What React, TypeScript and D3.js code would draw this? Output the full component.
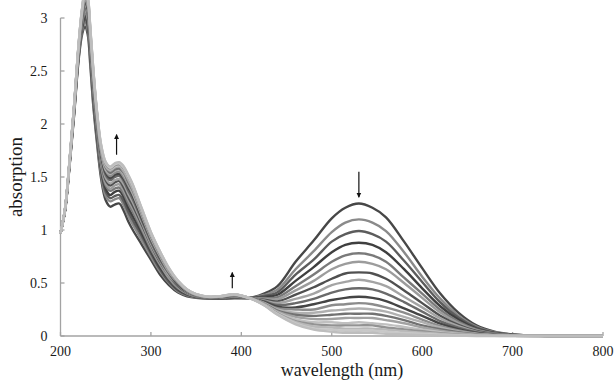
import * as d3 from 'd3';

// wavelength grid (nm) of the recorded spectra
const wavelengths = [
  200, 205, 210, 215, 220, 224, 227, 230, 233, 236, 240, 245, 250, 255, 260, 265, 270, 275, 280,
  290, 300, 310, 320, 330, 340, 350, 365, 380, 392, 410, 425, 440, 460, 480, 500, 515, 530, 545,
  560, 580, 600, 620, 640, 660, 680, 700, 730, 800,
];

// one row per wavelength, one column per titration step (19 spectra)
const absorbance: number[][] = [
  [0.97, 0.97, 0.97, 0.97, 0.97, 0.97, 0.97, 0.97, 0.97, 0.97, 0.97, 0.97, 0.97, 0.97, 0.97, 0.97, 0.97, 0.97, 0.97],
  [1.18, 1.18, 1.18, 1.19, 1.19, 1.19, 1.19, 1.19, 1.19, 1.19, 1.2, 1.2, 1.2, 1.2, 1.2, 1.2, 1.2, 1.2, 1.2],
  [1.6, 1.61, 1.61, 1.62, 1.62, 1.62, 1.63, 1.63, 1.63, 1.64, 1.64, 1.64, 1.64, 1.64, 1.65, 1.65, 1.65, 1.65, 1.65],
  [2.08, 2.09, 2.1, 2.11, 2.12, 2.12, 2.13, 2.13, 2.14, 2.15, 2.15, 2.15, 2.16, 2.16, 2.16, 2.17, 2.17, 2.17, 2.17],
  [2.6, 2.62, 2.63, 2.65, 2.66, 2.67, 2.68, 2.69, 2.7, 2.71, 2.72, 2.72, 2.73, 2.73, 2.74, 2.74, 2.75, 2.75, 2.75],
  [2.85, 2.88, 2.9, 2.93, 2.95, 2.96, 2.98, 3.0, 3.01, 3.03, 3.04, 3.05, 3.06, 3.07, 3.08, 3.09, 3.09, 3.1, 3.1],
  [2.92, 2.96, 2.99, 3.02, 3.05, 3.07, 3.1, 3.12, 3.14, 3.16, 3.17, 3.19, 3.2, 3.21, 3.22, 3.23, 3.24, 3.25, 3.25],
  [2.85, 2.89, 2.92, 2.96, 2.99, 3.01, 3.04, 3.06, 3.08, 3.1, 3.12, 3.13, 3.15, 3.16, 3.17, 3.18, 3.19, 3.2, 3.2],
  [2.55, 2.59, 2.62, 2.66, 2.69, 2.71, 2.74, 2.76, 2.78, 2.8, 2.82, 2.83, 2.85, 2.86, 2.87, 2.88, 2.89, 2.9, 2.9],
  [2.2, 2.24, 2.27, 2.31, 2.34, 2.36, 2.39, 2.41, 2.43, 2.45, 2.47, 2.48, 2.5, 2.51, 2.52, 2.53, 2.54, 2.55, 2.55],
  [1.85, 1.89, 1.91, 1.94, 1.97, 1.99, 2.01, 2.03, 2.05, 2.07, 2.08, 2.09, 2.11, 2.12, 2.13, 2.13, 2.14, 2.15, 2.15],
  [1.48, 1.52, 1.55, 1.58, 1.6, 1.62, 1.65, 1.67, 1.69, 1.71, 1.73, 1.74, 1.75, 1.76, 1.77, 1.78, 1.79, 1.8, 1.8],
  [1.28, 1.32, 1.36, 1.39, 1.42, 1.44, 1.47, 1.49, 1.52, 1.54, 1.56, 1.57, 1.59, 1.6, 1.61, 1.62, 1.63, 1.64, 1.64],
  [1.22, 1.27, 1.3, 1.33, 1.37, 1.39, 1.42, 1.44, 1.47, 1.49, 1.51, 1.53, 1.54, 1.56, 1.57, 1.58, 1.59, 1.59, 1.6],
  [1.24, 1.29, 1.32, 1.36, 1.39, 1.42, 1.45, 1.47, 1.5, 1.52, 1.54, 1.56, 1.57, 1.59, 1.6, 1.61, 1.62, 1.62, 1.63],
  [1.25, 1.3, 1.33, 1.37, 1.4, 1.43, 1.46, 1.48, 1.51, 1.53, 1.55, 1.57, 1.58, 1.6, 1.61, 1.62, 1.63, 1.63, 1.64],
  [1.18, 1.23, 1.27, 1.31, 1.34, 1.37, 1.4, 1.43, 1.46, 1.48, 1.5, 1.52, 1.54, 1.55, 1.57, 1.58, 1.59, 1.59, 1.6],
  [1.08, 1.13, 1.17, 1.21, 1.25, 1.28, 1.31, 1.34, 1.37, 1.4, 1.42, 1.44, 1.45, 1.47, 1.49, 1.5, 1.51, 1.51, 1.52],
  [1.0, 1.05, 1.09, 1.13, 1.17, 1.2, 1.23, 1.26, 1.29, 1.32, 1.34, 1.35, 1.37, 1.38, 1.4, 1.41, 1.42, 1.42, 1.43],
  [0.86, 0.9, 0.94, 0.97, 1.0, 1.02, 1.05, 1.07, 1.09, 1.11, 1.13, 1.14, 1.15, 1.16, 1.17, 1.18, 1.19, 1.2, 1.2],
  [0.72, 0.75, 0.78, 0.8, 0.82, 0.84, 0.86, 0.87, 0.89, 0.91, 0.92, 0.93, 0.94, 0.95, 0.96, 0.97, 0.97, 0.98, 0.98],
  [0.58, 0.61, 0.63, 0.65, 0.67, 0.68, 0.7, 0.71, 0.72, 0.74, 0.75, 0.76, 0.77, 0.78, 0.78, 0.79, 0.79, 0.8, 0.8],
  [0.48, 0.5, 0.51, 0.53, 0.54, 0.55, 0.57, 0.57, 0.59, 0.6, 0.6, 0.61, 0.62, 0.62, 0.63, 0.63, 0.63, 0.64, 0.64],
  [0.41, 0.42, 0.43, 0.44, 0.45, 0.46, 0.47, 0.48, 0.48, 0.49, 0.5, 0.5, 0.5, 0.51, 0.51, 0.51, 0.52, 0.52, 0.52],
  [0.375, 0.383, 0.389, 0.395, 0.4, 0.404, 0.409, 0.413, 0.418, 0.422, 0.425, 0.428, 0.43, 0.433, 0.435, 0.436, 0.438, 0.439, 0.44],
  [0.36, 0.364, 0.367, 0.37, 0.373, 0.376, 0.379, 0.381, 0.383, 0.385, 0.387, 0.388, 0.39, 0.391, 0.392, 0.393, 0.394, 0.394, 0.395],
  [0.352, 0.354, 0.356, 0.357, 0.359, 0.36, 0.362, 0.363, 0.364, 0.365, 0.366, 0.367, 0.367, 0.368, 0.369, 0.369, 0.369, 0.37, 0.37],
  [0.35, 0.354, 0.356, 0.359, 0.362, 0.364, 0.366, 0.368, 0.37, 0.372, 0.373, 0.374, 0.376, 0.377, 0.378, 0.378, 0.379, 0.38, 0.38],
  [0.355, 0.36, 0.363, 0.367, 0.37, 0.373, 0.376, 0.379, 0.381, 0.384, 0.386, 0.387, 0.389, 0.39, 0.392, 0.393, 0.394, 0.394, 0.395],
  [0.36, 0.36, 0.359, 0.359, 0.358, 0.358, 0.357, 0.357, 0.357, 0.356, 0.356, 0.356, 0.356, 0.356, 0.355, 0.355, 0.355, 0.355, 0.355],
  [0.4, 0.387, 0.377, 0.367, 0.358, 0.35, 0.342, 0.335, 0.328, 0.321, 0.315, 0.311, 0.306, 0.303, 0.299, 0.296, 0.294, 0.292, 0.29],
  [0.47, 0.438, 0.413, 0.389, 0.366, 0.348, 0.327, 0.311, 0.293, 0.276, 0.262, 0.251, 0.24, 0.231, 0.222, 0.215, 0.209, 0.204, 0.2],
  [0.7, 0.63, 0.58, 0.52, 0.47, 0.43, 0.39, 0.35, 0.31, 0.27, 0.25, 0.22, 0.2, 0.18, 0.16, 0.14, 0.13, 0.12, 0.11],
  [0.9, 0.8, 0.72, 0.65, 0.58, 0.52, 0.46, 0.4, 0.35, 0.3, 0.25, 0.22, 0.19, 0.16, 0.13, 0.11, 0.09, 0.07, 0.06],
  [1.11, 0.98, 0.89, 0.79, 0.7, 0.63, 0.54, 0.48, 0.41, 0.34, 0.29, 0.24, 0.2, 0.16, 0.13, 0.1, 0.08, 0.06, 0.04],
  [1.21, 1.07, 0.96, 0.86, 0.76, 0.68, 0.59, 0.51, 0.44, 0.36, 0.3, 0.25, 0.21, 0.17, 0.12, 0.1, 0.07, 0.05, 0.03],
  [1.25, 1.1, 0.99, 0.88, 0.78, 0.7, 0.6, 0.53, 0.45, 0.37, 0.31, 0.26, 0.21, 0.17, 0.13, 0.1, 0.07, 0.05, 0.03],
  [1.21, 1.07, 0.96, 0.86, 0.76, 0.68, 0.59, 0.51, 0.44, 0.36, 0.3, 0.25, 0.21, 0.17, 0.12, 0.1, 0.07, 0.05, 0.03],
  [1.12, 0.99, 0.89, 0.79, 0.7, 0.63, 0.54, 0.47, 0.4, 0.33, 0.27, 0.23, 0.19, 0.15, 0.11, 0.08, 0.06, 0.04, 0.02],
  [0.89, 0.79, 0.71, 0.63, 0.55, 0.5, 0.43, 0.37, 0.32, 0.26, 0.22, 0.18, 0.15, 0.12, 0.085, 0.063, 0.046, 0.028, 0.015],
  [0.64, 0.56, 0.51, 0.45, 0.4, 0.36, 0.31, 0.27, 0.23, 0.19, 0.155, 0.13, 0.1, 0.08, 0.06, 0.045, 0.03, 0.02, 0.01],
  [0.4, 0.353, 0.317, 0.281, 0.248, 0.222, 0.191, 0.167, 0.141, 0.116, 0.096, 0.08, 0.064, 0.05, 0.037, 0.027, 0.019, 0.011, 0.005],
  [0.22, 0.194, 0.174, 0.155, 0.136, 0.122, 0.105, 0.092, 0.078, 0.064, 0.053, 0.044, 0.036, 0.028, 0.02, 0.015, 0.011, 0.006, 0.003],
  [0.1, 0.088, 0.079, 0.07, 0.062, 0.055, 0.047, 0.041, 0.035, 0.028, 0.023, 0.019, 0.015, 0.012, 0.008, 0.006, 0.004, 0.002, 0],
  [0.04, 0.035, 0.032, 0.028, 0.025, 0.022, 0.019, 0.016, 0.014, 0.011, 0.009, 0.008, 0.006, 0.005, 0.003, 0.002, 0.001, 0.001, 0],
  [0.015, 0.013, 0.012, 0.011, 0.009, 0.008, 0.007, 0.006, 0.005, 0.004, 0.003, 0.003, 0.002, 0.002, 0.001, 0.001, 0.001, 0, 0],
  [0.003, 0.003, 0.002, 0.002, 0.002, 0.002, 0.001, 0.001, 0.001, 0.001, 0.001, 0.001, 0, 0, 0, 0, 0, 0, 0],
  [0, 0, 0, 0, 0, 0, 0, 0, 0, 0, 0, 0, 0, 0, 0, 0, 0, 0, 0],
];

const curveColors = [
  '#474747', '#8a8a8a', '#5c5c5c', '#3f3f3f', '#7a7a7a', '#9c9c9c', '#505050', '#a4a4a4', '#6a6a6a',
  '#454545', '#8c8c8c', '#b0b0b0', '#727272', '#a2a2a2', '#c0c0c0', '#939393', '#b8b8b8', '#c8c8c8', '#bdbdbd',
];

const xTicks = [200, 300, 400, 500, 600, 700, 800];
const yTicks = [0, 0.5, 1, 1.5, 2, 2.5, 3];
const yTickLabels = ['0', '0.5', '1', '1.5', '2', '2.5', '3'];

// titration arrows: wavelength, tail value, tip value
const arrowWl = [262, 390, 530];
const arrowFrom = [1.71, 0.45, 1.55];
const arrowTo = [1.9, 0.6, 1.31];

const W = 615;
const H = 381;
const FONT = "'Liberation Serif', 'DejaVu Serif', serif";
const AXIS = '#a3a3a3';

export default function App() {
  const x = d3.scaleLinear().domain([200, 800]).range([60.5, 603]);
  const y = d3.scaleLinear().domain([0, 3]).range([336, 18]);

  const line = d3
    .line<[number, number]>()
    .x((d) => x(d[0]))
    .y((d) => y(d[1]))
    .curve(d3.curveCatmullRom.alpha(0.5));

  const series = curveColors.map((_, i) =>
    wavelengths.map((w, j) => [w, absorbance[j][i]] as [number, number])
  );

  const textStyle = { fontFamily: FONT, fill: '#1a1a1a' };

  return (
    <svg
      width={W}
      height={H}
      viewBox={`0 0 ${W} ${H}`}
      style={{ position: 'absolute', left: 0, top: 0, background: '#fff' }}
    >
      <rect width={W} height={H} fill="#fff" />

      {/* axes */}
      <g stroke={AXIS} strokeWidth={1.3} fill="none">
        <line x1={x(200)} x2={x(200)} y1={y(0)} y2={y(3)} />
        <line x1={x(200)} x2={x(800)} y1={y(0)} y2={y(0)} />
        {yTicks.map((t) => (
          <line key={'yt' + t} x1={x(200)} x2={x(200) + 4} y1={y(t)} y2={y(t)} />
        ))}
        {xTicks.map((t) => (
          <line key={'xt' + t} x1={x(t)} x2={x(t)} y1={y(0)} y2={y(0) - 4} />
        ))}
      </g>

      {/* spectra */}
      <g fill="none" strokeWidth={2.4} strokeLinejoin="round">
        {series.map((s, i) => (
          <path key={i} d={line(s) ?? ''} stroke={curveColors[i]} />
        ))}
      </g>

      {/* arrows */}
      <defs>
        <marker id="head" viewBox="0 0 10 10" refX="9" refY="5" markerWidth="5" markerHeight="7" orient="auto-start-reverse" markerUnits="userSpaceOnUse">
          <path d="M0,0 L10,5 L0,10 z" fill="#111" />
        </marker>
      </defs>
      <g stroke="#111" strokeWidth={1.2}>
        {arrowWl.map((w, i) => (
          <line
            key={'ar' + i}
            x1={x(w)}
            x2={x(w)}
            y1={y(arrowFrom[i])}
            y2={y(arrowTo[i])}
            markerEnd="url(#head)"
          />
        ))}
      </g>

      {/* tick labels */}
      {yTicks.map((t, i) => (
        <text key={'yl' + t} x={x(200) - 13} y={y(t)} dy="0.35em" textAnchor="end" style={{ ...textStyle, fontSize: 14 }}>
          {yTickLabels[i]}
        </text>
      ))}
      {xTicks.map((t) => (
        <text key={'xl' + t} x={x(t)} y={356} textAnchor="middle" style={{ ...textStyle, fontSize: 14 }}>
          {t}
        </text>
      ))}

      {/* axis titles */}
      <text x={342} y={376} textAnchor="middle" style={{ ...textStyle, fontSize: 18 }}>
        wavelength (nm)
      </text>
      <text
        transform={`translate(22, ${(y(0) + y(3)) / 2}) rotate(-90)`}
        textAnchor="middle"
        style={{ ...textStyle, fontSize: 19 }}
      >
        absorption
      </text>
    </svg>
  );
}
